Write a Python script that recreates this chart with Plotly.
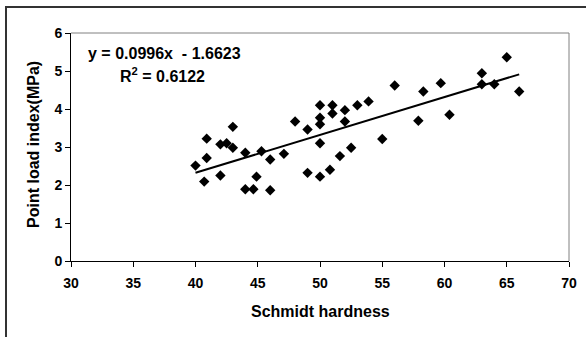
import plotly.graph_objects as go

# Schmidt hardness (x) and point load index in MPa (y)
schmidt = [40.0, 40.7, 40.9, 40.9, 42.0, 42.0, 42.5, 43.0, 43.0, 44.0, 44.0, 44.65,
           44.9, 45.3, 46.0, 46.0, 47.1, 48.0, 49.0, 49.0, 50.0, 50.0, 50.0, 50.0,
           50.0, 51.0, 51.0, 50.8, 52.0, 52.0, 51.6, 52.5, 53.0, 53.9, 55.0, 56.0,
           57.9, 58.3, 59.7, 60.4, 63.0, 63.0, 64.0, 65.0, 66.0]
point_load = [2.51, 2.09, 3.22, 2.71, 2.25, 3.07, 3.10, 3.53, 2.98, 2.85, 1.89, 1.89,
              2.22, 2.89, 2.67, 1.86, 2.82, 3.67, 3.46, 2.32, 4.10, 3.77, 3.60, 3.10,
              2.22, 4.10, 3.88, 2.40, 3.97, 3.67, 2.76, 2.98, 4.10, 4.20, 3.21, 4.62,
              3.69, 4.46, 4.68, 3.85, 4.94, 4.65, 4.65, 5.36, 4.46]

slope = 0.0996
intercept = -1.6623
r_squared = 0.6122

x_ticks = [30, 35, 40, 45, 50, 55, 60, 65, 70]
y_ticks = [0, 1, 2, 3, 4, 5, 6]
x_title = "Schmidt hardness"
y_title = "Point load index(MPa)"

W, H = 586, 337
ML, MR, MT, MB = 71, 17, 33, 76
PW, PH = W - ML - MR, H - MT - MB

FONT = "Liberation Sans, Arial, sans-serif"

fig = go.Figure()
fig.add_trace(go.Scatter(
    x=schmidt, y=point_load, mode="markers",
    marker=dict(symbol="diamond", size=8, color="black", line=dict(width=0)),
    showlegend=False, cliponaxis=False))

tx = [min(schmidt), max(schmidt)]
fig.add_trace(go.Scatter(
    x=tx, y=[slope * v + intercept for v in tx], mode="lines",
    line=dict(color="black", width=2), showlegend=False))

axis_common = dict(
    showgrid=False, zeroline=False, showline=True, linecolor="black", linewidth=1,
    ticks="outside", ticklen=5, tickcolor="black", tickwidth=1,
    tickfont=dict(family=FONT, size=14, color="black"),
)
fig.update_xaxes(range=[30, 70], tickvals=x_ticks, ticklabelstandoff=4,
                 ticktext=[f"<b>{v}</b>" for v in x_ticks], **axis_common)
fig.update_yaxes(range=[0, 6], tickvals=y_ticks,
                 ticktext=[f"<b>{v}</b>" for v in y_ticks], **axis_common)

def px_x(p):
    return (p - ML) / PW

def px_y(p):
    return 1 - (p - MT) / PH

shapes = [
    # plot-area border (top and right, gray)
    dict(type="line", xref="paper", yref="paper", x0=0, x1=1, y0=1, y1=1,
         line=dict(color="#808080", width=1)),
    dict(type="line", xref="paper", yref="paper", x0=1, x1=1, y0=0, y1=1,
         line=dict(color="#808080", width=1)),
    # chart-area border (top and left, dark)
    dict(type="line", xref="paper", yref="paper", x0=px_x(5.5), x1=px_x(590),
         y0=px_y(7), y1=px_y(7), line=dict(color="#333333", width=2)),
    dict(type="line", xref="paper", yref="paper", x0=px_x(6), x1=px_x(6),
         y0=px_y(6), y1=px_y(340), line=dict(color="#333333", width=2)),
]

annotations = [
    dict(xref="paper", yref="paper", x=px_x(86), y=px_y(53), xanchor="left", yanchor="middle",
         text=f"<b>y = {slope}x  - {abs(intercept)}</b>", showarrow=False,
         font=dict(family=FONT, size=16, color="black")),
    dict(xref="paper", yref="paper", x=px_x(118), y=px_y(75), xanchor="left", yanchor="middle",
         text=f"<b>R<sup>2</sup> = {r_squared}</b>", showarrow=False,
         font=dict(family=FONT, size=16, color="black")),
    dict(xref="paper", yref="paper", x=0.5, y=px_y(311), xanchor="center", yanchor="middle",
         text=f"<b>{x_title}</b>", showarrow=False,
         font=dict(family=FONT, size=16, color="black")),
    dict(xref="paper", yref="paper", x=px_x(33), y=px_y(145), xanchor="center", yanchor="middle",
         text=f"<b>{y_title}</b>", showarrow=False, textangle=-90,
         font=dict(family=FONT, size=16, color="black")),
]

fig.update_layout(
    width=W, height=H,
    margin=dict(l=ML, r=MR, t=MT, b=MB, autoexpand=False),
    paper_bgcolor="white", plot_bgcolor="white",
    shapes=shapes, annotations=annotations,
)

fig.write_html("out.html")
